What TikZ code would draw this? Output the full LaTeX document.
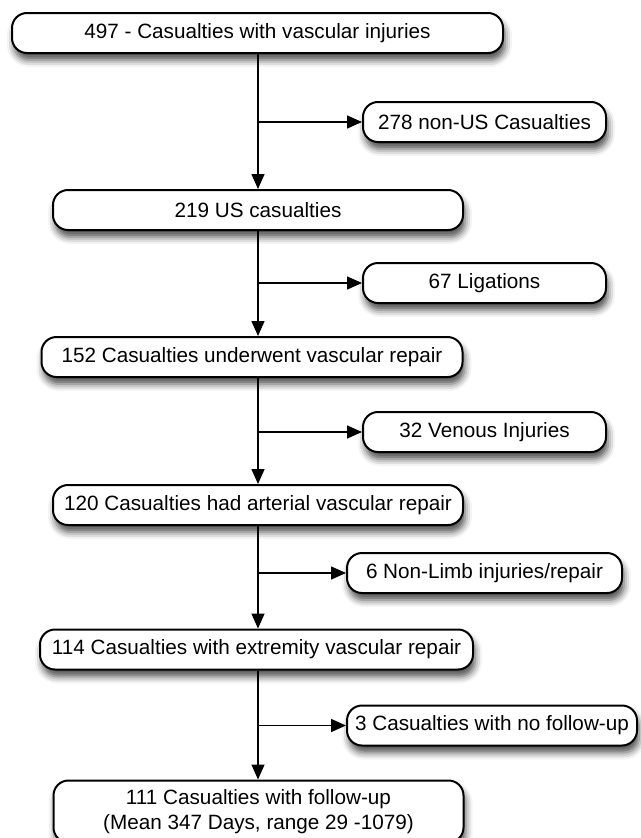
\documentclass[tikz,border=0pt]{standalone}
\usepackage{fontspec}
\setmainfont{Liberation Sans}
\usetikzlibrary{arrows.meta,shadows.blur}
\begin{document}
\begin{tikzpicture}[x=1pt,y=-1pt,
  box/.style={draw=black, line width=2pt, fill=white, rounded corners=15pt,
    minimum height=40pt, inner sep=0pt, align=center,
    font=\fontsize{20.7}{25}\selectfont,
    blur shadow={shadow xshift=2pt, shadow yshift=-7pt, shadow blur radius=7pt, shadow opacity=70}},
  arr/.style={line width=1.5pt, -{Triangle[length=15pt,width=13pt]}}]
\useasboundingbox (0,0) rectangle (640,838);
\coordinate (t) at (258,0);
\node[box, minimum width=491pt] (b1) at (257.5,33) {497 - Casualties with vascular injuries};
\node[box, minimum width=243pt] (s1) at (484.5,122) {278 non-US Casualties};
\node[box, minimum width=410pt] (b2) at (258,210) {219 US casualties};
\node[box, minimum width=243pt] (s2) at (484.5,283) {67 Ligations};
\node[box, minimum width=421pt] (b3) at (252,357) {152 Casualties underwent vascular repair};
\node[box, minimum width=243pt] (s3) at (484.5,432) {32 Venous Injuries};
\node[box, minimum width=410pt] (b4) at (258,505) {120 Casualties had arterial vascular repair};
\node[box, minimum width=275pt] (s4) at (484.5,573) {6 Non-Limb injuries/repair};
\node[box, minimum width=433pt] (b5) at (256.5,649.5) {114 Casualties with extremity vascular repair};
\node[box, minimum width=290pt] (s5) at (492,725.5) {3 Casualties with no follow-up};
\node[box, minimum width=410pt, minimum height=62pt] (b6) at (258.5,811.5) {111 Casualties with follow-up\\(Mean 347 Days, range 29 -1079)};
\foreach \a/\b/\s in {b1/b2/s1, b2/b3/s2, b3/b4/s3, b4/b5/s4, b5/b6/s5}{
  \draw[arr] (\a.south -| t) -- (\b.north -| t);
  \draw[arr] (\s.west -| t) -- (\s.west);
}
\end{tikzpicture}
\end{document}
